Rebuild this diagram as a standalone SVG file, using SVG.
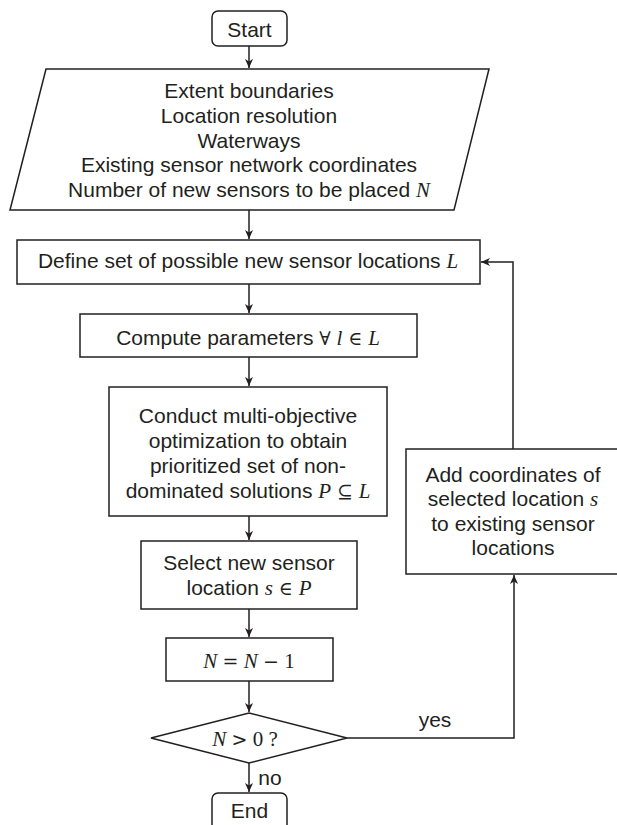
<svg xmlns="http://www.w3.org/2000/svg" width="617" height="825" viewBox="0 0 617 825">
<style>
.box{fill:#fff;stroke:#231f20;stroke-width:1.5}
.t{font-family:"Liberation Sans",Arial,sans-serif;font-size:21px;fill:#231f20;text-anchor:middle}
.m{font-family:"Liberation Serif","DejaVu Serif",serif;font-style:italic}
.u{font-family:"DejaVu Serif","Liberation Serif",serif;font-style:normal;font-size:19px}
.c{fill:none;stroke:#231f20;stroke-width:1.5}
</style>
<defs>
<marker id="ah" markerWidth="10" markerHeight="10" refX="9" refY="5" orient="auto" markerUnits="userSpaceOnUse">
<path d="M0,1 L9,5 L0,9 L2.5,5 Z" fill="#231f20"/>
</marker>
</defs>
<rect width="617" height="825" fill="#fff"/>
<g id="connectors">
<path class="c" d="M249,46 V68" marker-end="url(#ah)"/>
<path class="c" d="M249,210 V239" marker-end="url(#ah)"/>
<path class="c" d="M249,284 V313" marker-end="url(#ah)"/>
<path class="c" d="M249,357 V386" marker-end="url(#ah)"/>
<path class="c" d="M249,516 V540" marker-end="url(#ah)"/>
<path class="c" d="M249,609 V637" marker-end="url(#ah)"/>
<path class="c" d="M249,681 V712" marker-end="url(#ah)"/>
<path class="c" d="M249,763 V792" marker-end="url(#ah)"/>
<path class="c" d="M347,738 H514 V575" marker-end="url(#ah)"/>
<path class="c" d="M513,449 V262 H481" marker-end="url(#ah)"/>
<text class="t" x="435" y="727">yes</text>
<text class="t" x="270" y="785">no</text>
</g>
<g id="start">
<rect class="box" x="212" y="11" width="75" height="35" rx="6"/>
<text class="t" x="249.5" y="36.5">Start</text>
</g>
<g id="inputs">
<polygon class="box" points="46,69 489,69 454,210 10,210"/>
<text class="t" x="249" y="98">Extent boundaries</text>
<text class="t" x="249" y="122.8">Location resolution</text>
<text class="t" x="249" y="147.5">Waterways</text>
<text class="t" x="249" y="172.3">Existing sensor network coordinates</text>
<text class="t" x="249" y="197">Number of new sensors to be placed <tspan class="m">N</tspan></text>
</g>
<g id="define">
<rect class="box" x="17" y="240" width="463" height="44"/>
<text class="t" x="248" y="268">Define set of possible new sensor locations <tspan class="m">L</tspan></text>
</g>
<g id="compute">
<rect class="box" x="80" y="314" width="337" height="43"/>
<text class="t" x="248" y="345">Compute parameters <tspan class="u">∀</tspan> <tspan class="m">l</tspan> <tspan class="u">∈</tspan> <tspan class="m">L</tspan></text>
</g>
<g id="conduct">
<rect class="box" x="109" y="387" width="278" height="129"/>
<text class="t" x="248" y="422.7">Conduct multi-objective</text>
<text class="t" x="248" y="447.5">optimization to obtain</text>
<text class="t" x="248" y="472.5">prioritized set of non-</text>
<text class="t" x="248" y="498">dominated solutions <tspan class="m">P</tspan> <tspan class="u">⊆</tspan> <tspan class="m">L</tspan></text>
</g>
<g id="select">
<rect class="box" x="141" y="541" width="216" height="68"/>
<text class="t" x="249" y="570">Select new sensor</text>
<text class="t" x="249" y="595">location <tspan class="m">s</tspan> <tspan class="u">∈</tspan> <tspan class="m">P</tspan></text>
</g>
<g id="decrement">
<rect class="box" x="166" y="638" width="167" height="43"/>
<text class="t m" x="249" y="668">N <tspan class="u">=</tspan> N <tspan class="u">−</tspan> <tspan font-style="normal">1</tspan></text>
</g>
<g id="decision">
<polygon class="box" points="249,713 347,738 249,763 151,738"/>
<text class="t m" x="245" y="746">N <tspan class="u">&gt;</tspan> <tspan font-style="normal">0 ?</tspan></text>
</g>
<g id="add">
<rect class="box" x="406" y="449" width="216" height="125"/>
<text class="t" x="513" y="481.7">Add coordinates of</text>
<text class="t" x="513" y="506">selected location <tspan class="m">s</tspan></text>
<text class="t" x="513" y="531">to existing sensor</text>
<text class="t" x="513" y="555">locations</text>
</g>
<g id="end">
<rect class="box" x="212" y="793" width="75" height="40" rx="6"/>
<text class="t" x="249.5" y="818">End</text>
</g>
</svg>
